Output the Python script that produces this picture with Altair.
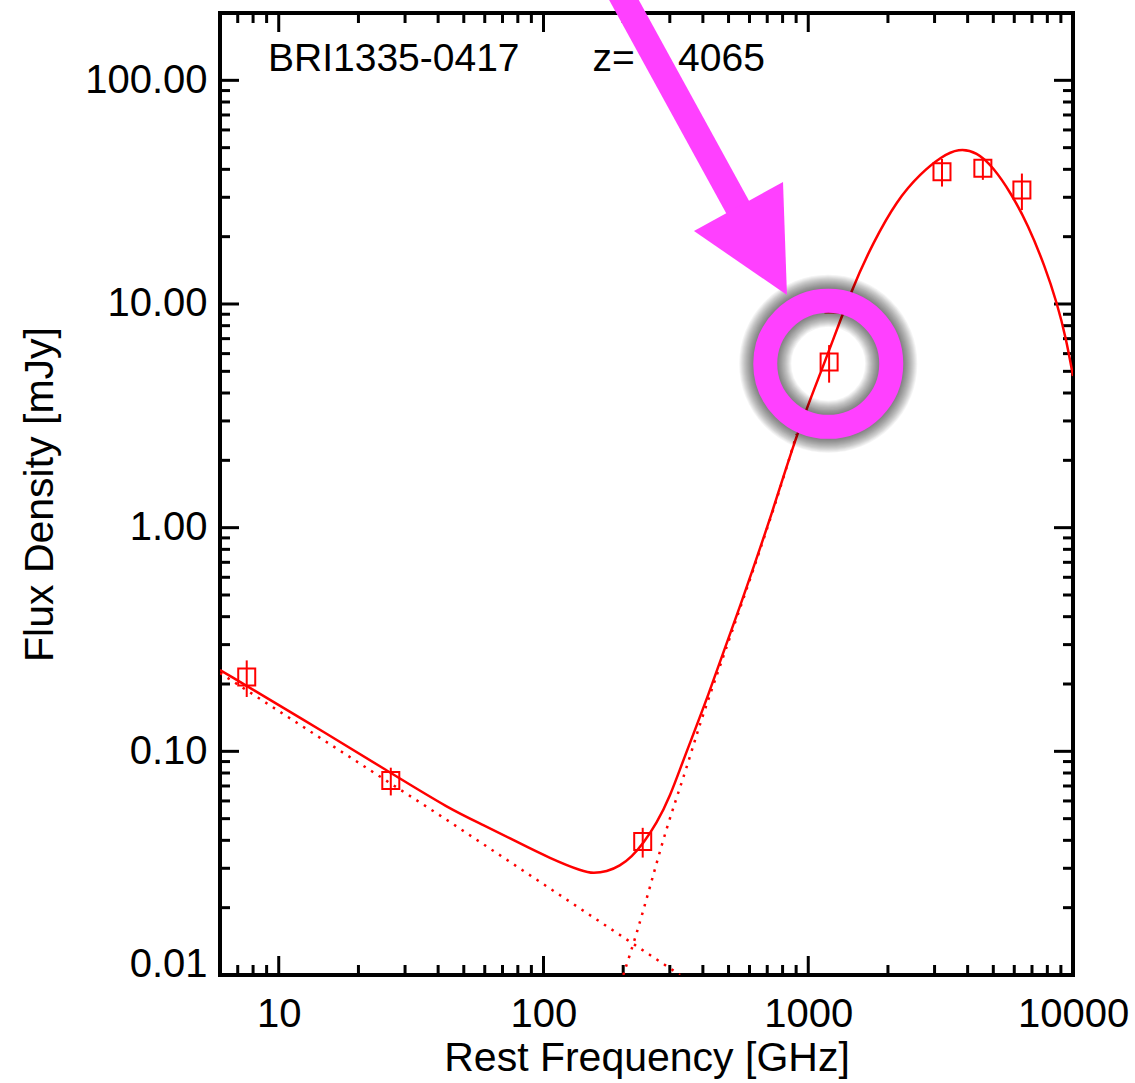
import altair as alt
import pandas as pd

# ---- plot geometry -------------------------------------------------------
W, H = 853, 962
RED = "#ff0000"
MAGENTA = "#ff40ff"
FONT = "Liberation Sans"

# ---- photometry: rest frequency [GHz], flux density [mJy], 1-sigma error --
freq_obs = [7.57, 26.5, 237.0, 1199.0, 1250.0, 3200.0, 4566.0, 6412.0]
flux_obs = [0.215, 0.074, 0.0395, 5.5, 10.0, 39.0, 40.4, 32.3]
flux_err = [0.040, 0.0105, 0.0060, 1.05, 0.5, 5.5, 4.5, 6.0]

# ---- total SED model (synchrotron + dust) --------------------------------
sed_freq = [6.0, 12.03, 26.55, 44.35, 59.25, 79.2, 105.8, 141.4, 154.2, 173.3,
            194.5, 215.4, 238.2, 267.7, 300.5, 337.3, 413.4, 552.3, 737.9,
            904.4, 1157, 1471, 1756, 2163, 2662, 3181, 3694, 4338, 4986,
            5832, 6761, 7837, 8700, 9408, 10000]
sed_flux = [0.231, 0.1417, 0.0800, 0.0551, 0.0469, 0.03945, 0.03324, 0.02896,
            0.02849, 0.02896, 0.03071, 0.03379, 0.0388, 0.0477, 0.06269, 0.0915,
            0.1697, 0.4433, 1.1996, 2.642, 5.504, 11.95, 18.74, 29.17,
            38.41, 45.57, 49.67, 47.82, 40.98, 31.35, 22.55, 14.72, 10.10, 7.05,
            4.77]

# ---- individual components ----------------------------------------------
synch_freq = [6.0, 41.8, 328.0]
synch_flux = [0.224, 0.0506, 0.0100]
dust_freq = [200.2, 224.9, 252.6, 292.0, 342.3, 390.0, 451.0, 521.2, 737.9, 904.4]
dust_flux = [0.0100, 0.0153, 0.0248, 0.0460, 0.0797, 0.1334, 0.2185, 0.356, 1.18, 2.62]

# ---- tick positions -----------------------------------------------------
x_major = [10, 100, 1000, 10000]
x_minor = [7, 8, 9, 20, 30, 40, 50, 60, 70, 80, 90,
           200, 300, 400, 500, 600, 700, 800, 900,
           2000, 3000, 4000, 5000, 6000, 7000, 8000, 9000]
y_major = [0.01, 0.1, 1, 10, 100]
y_minor = [0.02, 0.03, 0.04, 0.05, 0.06, 0.07, 0.08, 0.09,
           0.2, 0.3, 0.4, 0.5, 0.6, 0.7, 0.8, 0.9,
           2, 3, 4, 5, 6, 7, 8, 9,
           20, 30, 40, 50, 60, 70, 80, 90]

# ---- header text and highlight annotation (data coordinates) -------------
label_text = ["BRI1335-0417", "z= 4.4065"]
label_freq = [9.11, 153.1]
label_flux = [110.1, 110.1]

ring_freq = [1190.0]
ring_flux = [5.4]
arrow_tail_freq, arrow_tail_flux = 174.5, 311.3
arrow_base_freq, arrow_base_flux = 562.0, 25.0
head_freq, head_flux = 552.3, 19.32
HEAD_PATH = "M -0.767 -0.15 L 0.717 -0.967 L 0.783 0.917 Z"

# ---- scales & axes --------------------------------------------------------
xs = alt.Scale(type="log", domain=[6, 10000], nice=False)
ys = alt.Scale(type="log", domain=[0.01, 200], nice=False)

xaxis = alt.Axis(values=x_major, format="d", ticks=False, domain=False, grid=False,
                 labelFont=FONT, labelFontSize=40, labelColor="black",
                 labelPadding=19, labelFlush=False, labelOverlap=False,
                 title="Rest Frequency [GHz]", titleFont=FONT, titleFontSize=41,
                 titleFontWeight="normal", titleColor="black",
                 titleY=95, titleBaseline="alphabetic")
yaxis = alt.Axis(values=y_major, format=".2f", ticks=False, domain=False, grid=False,
                 labelFont=FONT, labelFontSize=40, labelColor="black",
                 labelPadding=13, labelFlush=False, labelOverlap=False,
                 labelOffset={"condition": {"test": "datum.value < 0.05", "value": -11},
                              "value": 0},
                 title="Flux Density [mJy]", titleFont=FONT, titleFontSize=41,
                 titleFontWeight="normal", titleColor="black",
                 titleAngle=270, titleX=-168, titleY=H / 2,
                 titleBaseline="alphabetic")


def X(field="f"):
    return alt.X(f"{field}:Q", scale=xs, axis=xaxis)


def Y(field="F"):
    return alt.Y(f"{field}:Q", scale=ys, axis=yaxis)


# ---- data frames ----------------------------------------------------------
obs = pd.DataFrame({"f": freq_obs, "F": flux_obs, "err": flux_err})
obs["lo"] = obs["F"] - obs["err"]
obs["hi"] = obs["F"] + obs["err"]
sed = pd.DataFrame({"f": sed_freq, "F": sed_flux})
synch = pd.DataFrame({"f": synch_freq, "F": synch_flux})
dust = pd.DataFrame({"f": dust_freq, "F": dust_flux})
labels = pd.DataFrame({"f": label_freq, "F": label_flux, "t": label_text})
ring = pd.DataFrame({"f": ring_freq, "F": ring_flux})
shaft = pd.DataFrame({"f": [arrow_tail_freq], "F": [arrow_tail_flux],
                      "f2": [arrow_base_freq], "F2": [arrow_base_flux]})
head = pd.DataFrame({"f": [head_freq], "F": [head_flux]})

# ---- inward ticks on all four sides --------------------------------------
MAJ, MIN_ = 19, 10
tick_layers = []
for vals, length in ((x_major, MAJ), (x_minor, MIN_)):
    d = pd.DataFrame({"f": vals})
    tick_layers.append(alt.Chart(d).mark_rule(color="black", strokeWidth=3).encode(
        x=X(), y=alt.value(H), y2=alt.value(H - length)))
    tick_layers.append(alt.Chart(d).mark_rule(color="black", strokeWidth=3).encode(
        x=X(), y=alt.value(0), y2=alt.value(length)))
for vals, length in ((y_major, MAJ), (y_minor, MIN_)):
    d = pd.DataFrame({"F": vals})
    tick_layers.append(alt.Chart(d).mark_rule(color="black", strokeWidth=3).encode(
        y=Y(), x=alt.value(0), x2=alt.value(length)))
    tick_layers.append(alt.Chart(d).mark_rule(color="black", strokeWidth=3).encode(
        y=Y(), x=alt.value(W), x2=alt.value(W - length)))

# ---- model curves ---------------------------------------------------------
total_line = alt.Chart(sed).mark_line(color=RED, strokeWidth=2.5,
                                      interpolate="basis", clip=True).encode(
    x=X(), y=Y(), order="f:Q")
synch_line = alt.Chart(synch).mark_line(color=RED, strokeWidth=2.5,
                                        strokeDash=[2.5, 6.5], clip=True).encode(
    x=X(), y=Y(), order="f:Q")
dust_line = alt.Chart(dust).mark_line(color=RED, strokeWidth=2.5, strokeDash=[2.5, 6.5],
                                      interpolate="basis", clip=True).encode(
    x=X(), y=Y(), order="f:Q")

# ---- measurements ---------------------------------------------------------
err_bars = alt.Chart(obs).mark_rule(color=RED, strokeWidth=2).encode(
    x=X(), y=Y("lo"), y2=alt.Y2("hi:Q"))
squares = alt.Chart(obs).mark_point(shape="square", size=289, filled=False,
                                    color=RED, strokeWidth=2, opacity=1).encode(
    x=X(), y=Y())

# ---- header text ----------------------------------------------------------
header = alt.Chart(labels).mark_text(align="left", baseline="alphabetic",
                                     font=FONT, fontSize=39, color="black").encode(
    x=X(), y=Y(), text="t:N")

# ---- highlight ring with soft shadow and pointing arrow --------------------
RING_SIZE = 126 ** 2
shadow_layers = [
    alt.Chart(ring).mark_point(shape="circle", size=RING_SIZE, filled=False,
                               color="black", strokeWidth=w, opacity=0.04,
                               clip=False).encode(x=X(), y=Y())
    for w in (52, 50, 48, 46, 44, 42, 40, 38, 36, 34, 32, 30, 28, 26)
]
ring_mark = alt.Chart(ring).mark_point(shape="circle", size=RING_SIZE, filled=False,
                                       color=MAGENTA, strokeWidth=24, opacity=1,
                                       clip=False).encode(x=X(), y=Y())
arrow_shaft = alt.Chart(shaft).mark_rule(color=MAGENTA, strokeWidth=26,
                                         strokeCap="butt", clip=False).encode(
    x=X(), y=Y(), x2=alt.X2("f2:Q"), y2=alt.Y2("F2:Q"))
arrow_head = alt.Chart(head).mark_point(shape=HEAD_PATH, size=14400, filled=True,
                                        color=MAGENTA, strokeWidth=0, opacity=1,
                                        clip=False).encode(x=X(), y=Y())

chart = alt.layer(
    *tick_layers, total_line, synch_line, dust_line, err_bars, squares, header,
    *shadow_layers, ring_mark, arrow_shaft, arrow_head
).properties(
    width=W, height=H, autosize="none",
    padding={"left": 220, "top": 13, "right": 62, "bottom": 108},
    background="white",
).configure_view(stroke="black", strokeWidth=4)

chart.save("out.html", embed_options={"renderer": "svg", "actions": False})
